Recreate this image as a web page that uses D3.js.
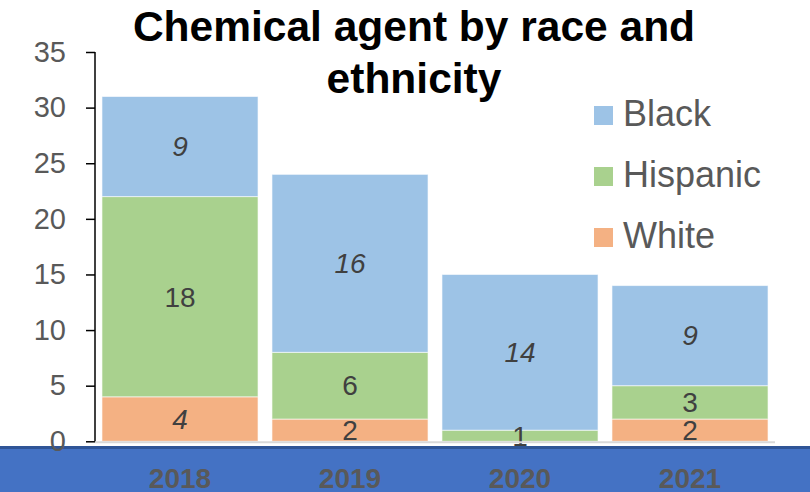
<!DOCTYPE html>
<html>
<head>
<meta charset="utf-8">
<script src="https://cdn.jsdelivr.net/npm/d3@7"></script>
<style>
  html, body { margin: 0; padding: 0; background: #ffffff; }
  svg { display: block; font-family: "Liberation Sans", Arial, sans-serif; }
</style>
</head>
<body>
<svg id="chart" width="810" height="492"></svg>
<script>
const years = ["2018", "2019", "2020", "2021"];
const white = [4, 2, 0, 2];
const hispanic = [18, 6, 1, 3];
const black = [9, 16, 14, 9];
const seriesNames = ["White", "Hispanic", "Black"];
const legendOrder = ["Black", "Hispanic", "White"];
const yTicks = [0, 5, 10, 15, 20, 25, 30, 35];
const titleLines = ["Chemical agent by race and", "ethnicity"];
const italicWhite = [true, false, false, false];

const colors = { White: "#F4B183", Hispanic: "#A9D18E", Black: "#9DC3E6" };

const rows = years.map((y, i) => ({ year: y, White: white[i], Hispanic: hispanic[i], Black: black[i], i }));

const svg = d3.select("#chart");
const x = d3.scaleBand().domain(years).range([95, 775]).paddingInner(0.082).paddingOuter(0.041);
const y = d3.scaleLinear().domain([0, 35]).range([441.3, 52]);

// bottom blue band
svg.append("rect").attr("x", 0).attr("y", 446).attr("width", 810).attr("height", 46).attr("fill", "#4472C4");
svg.append("rect").attr("x", 0).attr("y", 446).attr("width", 810).attr("height", 3).attr("fill", "#2F5597");

const stack = d3.stack().keys(seriesNames)(rows);

const g = svg.append("g");
stack.forEach(layer => {
  g.selectAll(null).data(layer).join("rect")
    .attr("x", d => x(d.data.year))
    .attr("width", x.bandwidth())
    .attr("y", d => y(d[1]))
    .attr("height", d => y(d[0]) - y(d[1]))
    .attr("fill", colors[layer.key])
    .attr("stroke", "rgba(255,255,255,0.6)")
    .attr("stroke-width", 1);
});

// baseline (category axis)
svg.append("line").attr("x1", 95).attr("x2", 775).attr("y1", y(0) + 1).attr("y2", y(0) + 1)
  .attr("stroke", "#D9D9D9").attr("stroke-width", 2);

// y axis
const yAxis = d3.axisLeft(y).tickValues(yTicks).tickSize(9).tickPadding(20);
const ya = svg.append("g").attr("transform", "translate(95,0)").call(yAxis);
ya.select(".domain").attr("stroke", "#000").attr("stroke-width", 1.5).attr("d", `M0,${y(35)}V${y(0)}`);
ya.selectAll(".tick line").attr("stroke", "#000").attr("stroke-width", 1.5);
ya.selectAll(".tick text").attr("fill", "#595959").attr("font-size", 29)
  .attr("font-family", "Liberation Sans, Arial, sans-serif");

// data labels
stack.forEach(layer => {
  g.selectAll(null).data(layer.filter(d => d.data[layer.key] > 0)).join("text")
    .attr("x", d => x(d.data.year) + x.bandwidth() / 2)
    .attr("y", d => y((d[0] + d[1]) / 2))
    .attr("dy", "0.35em")
    .attr("text-anchor", "middle")
    .attr("font-size", 28)
    .attr("fill", "#404040")
    .attr("font-style", d => {
      if (layer.key === "Black") return "italic";
      if (layer.key === "White") return italicWhite[d.data.i] ? "italic" : "normal";
      return "normal";
    })
    .text(d => d.data[layer.key]);
});

// x labels in blue band
svg.selectAll(null).data(years).join("text")
  .attr("x", d => x(d) + x.bandwidth() / 2)
  .attr("y", 488)
  .attr("text-anchor", "middle")
  .attr("font-size", 28)
  .attr("font-weight", "bold")
  .attr("fill", "#595959")
  .text(d => d);

// title
svg.selectAll(null).data(titleLines).join("text")
  .attr("x", 414)
  .attr("y", (d, i) => 41 + i * 52)
  .attr("text-anchor", "middle")
  .attr("font-size", 42.5)
  .attr("font-weight", "bold")
  .attr("fill", "#000")
  .text(d => d);

// legend
const lg = svg.append("g");
legendOrder.forEach((name, i) => {
  const yy = 106 + i * 61;
  lg.append("rect").attr("x", 594).attr("y", yy).attr("width", 19).attr("height", 19).attr("fill", colors[name]);
  lg.append("text").attr("x", 623).attr("y", yy + 20).attr("font-size", 36).attr("fill", "#595959").text(name);
});
</script>
</body>
</html>
